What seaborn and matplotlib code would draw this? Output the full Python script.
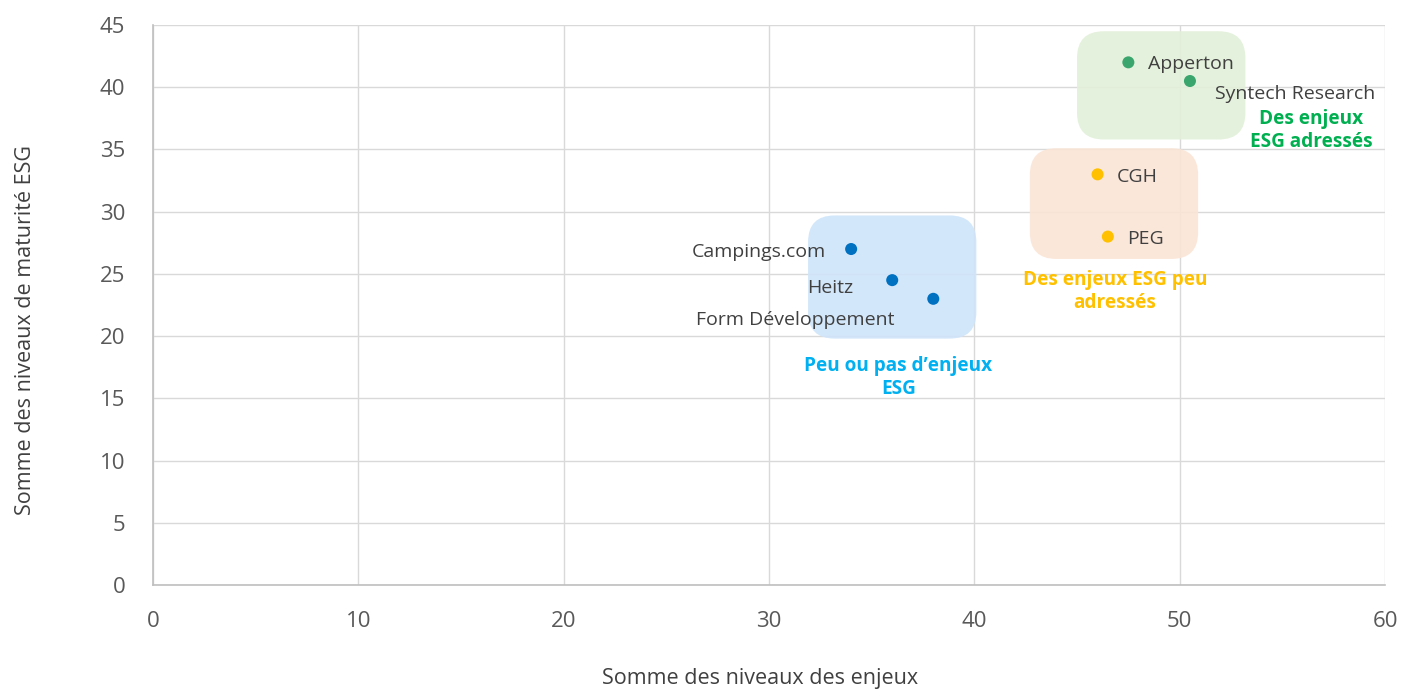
import matplotlib
matplotlib.use("Agg")
import matplotlib.pyplot as plt
from matplotlib.patches import FancyBboxPatch
import seaborn as sns
import pandas as pd

names = ["Apperton", "Syntech Research", "CGH", "PEG", "Campings.com", "Heitz", "Form Développement"]
enjeux = [47.5, 50.5, 46.0, 46.5, 34.0, 36.0, 38.0]
maturite = [42.0, 40.5, 33.0, 28.0, 27.0, 24.5, 23.0]
groups = ["vert", "vert", "orange", "orange", "bleu", "bleu", "bleu"]

x_ticks = [0, 10, 20, 30, 40, 50, 60]
y_ticks = [0, 5, 10, 15, 20, 25, 30, 35, 40, 45]

# zone boxes: (x0, y0, x1, y1) in data units
zone_keys = ["vert", "orange", "bleu"]
zone_boxes = [(45.0, 35.8, 53.2, 44.5), (42.7, 26.2, 50.9, 35.1), (31.9, 19.8, 40.1, 29.7)]
zone_texts = ["Des enjeux\nESG adressés", "Des enjeux ESG peu\nadressés", "Peu ou pas d’enjeux\nESG"]
zone_text_pos = [(56.4, 36.5), (46.85, 23.6), (36.3, 16.7)]

dot_colors = {"vert": "#3AA66E", "orange": "#FFC000", "bleu": "#0070C0"}
fill_colors = {"vert": "#E2F0D9", "orange": "#FBE5D6", "bleu": "#CFE5FA"}
text_colors = {"vert": "#00B050", "orange": "#FFC000", "bleu": "#00B0F0"}

df = pd.DataFrame({"name": names, "x": enjeux, "y": maturite, "group": groups})

sns.set_theme(style="white")
plt.rcParams["font.family"] = ["Open Sans", "DejaVu Sans"]

fig = plt.figure(figsize=(14.01, 6.93), dpi=100)
ax = fig.add_axes([0.1092, 0.1558, 0.8794, 0.8081])

for key, (x0, y0, x1, y1) in zip(zone_keys, zone_boxes):
    box = FancyBboxPatch((x0, y0), x1 - x0, y1 - y0,
                         boxstyle="round,pad=0,rounding_size=1.3",
                         mutation_aspect=20.53 / 12.44,
                         facecolor=fill_colors[key], edgecolor="none", zorder=1, alpha=0.9)
    ax.add_patch(box)

sns.scatterplot(data=df, x="x", y="y", hue="group", palette=dot_colors, s=75,
                edgecolor="none", legend=False, ax=ax, zorder=3)

offsets = {
    "Apperton": (14, -1, "left", "center"),
    "Syntech Research": (18, -9, "left", "center"),
    "CGH": (14, -2, "left", "center"),
    "PEG": (14, -2, "left", "center"),
    "Campings.com": (-18, -2, "right", "center"),
    "Heitz": (-28, -6, "right", "center"),
    "Form Développement": (-28, -15, "right", "center"),
}
for n, xv, yv in zip(names, enjeux, maturite):
    dx, dy, ha, va = offsets[n]
    ax.annotate(n, (xv, yv), xytext=(dx, dy), textcoords="offset points",
                ha=ha, va=va, fontsize=14, color="#404040", zorder=4)

for key, txt, (tx, ty) in zip(zone_keys, zone_texts, zone_text_pos):
    ax.text(tx, ty, txt, ha="center", va="center", fontsize=13.7, fontweight="bold",
            color=text_colors[key], linespacing=1.2, zorder=4)

ax.set_xlim(0, 60)
ax.set_ylim(0, 45)
ax.set_xticks(x_ticks)
ax.set_yticks(y_ticks)
ax.tick_params(axis="x", labelsize=16, colors="#595959", length=0, pad=19)
ax.tick_params(axis="y", labelsize=16, colors="#595959", length=0, pad=20)
ax.grid(True, color="#D9D9D9", linewidth=1)
ax.set_axisbelow(True)
for s in ["top", "right"]:
    ax.spines[s].set_visible(False)
for s in ["left", "bottom"]:
    ax.spines[s].set_color("#BFBFBF")
    ax.spines[s].set_linewidth(1.2)

ax.set_xlabel("Somme des niveaux des enjeux", fontsize=15.5, color="#404040")
ax.set_ylabel("Somme des niveaux de maturité ESG", fontsize=15.5, color="#404040")
ax.xaxis.set_label_coords(0.493, -0.148, transform=ax.transAxes)
ax.yaxis.set_label_coords(-0.095, 0.455, transform=ax.transAxes)

fig.savefig("out.png", dpi=100)
